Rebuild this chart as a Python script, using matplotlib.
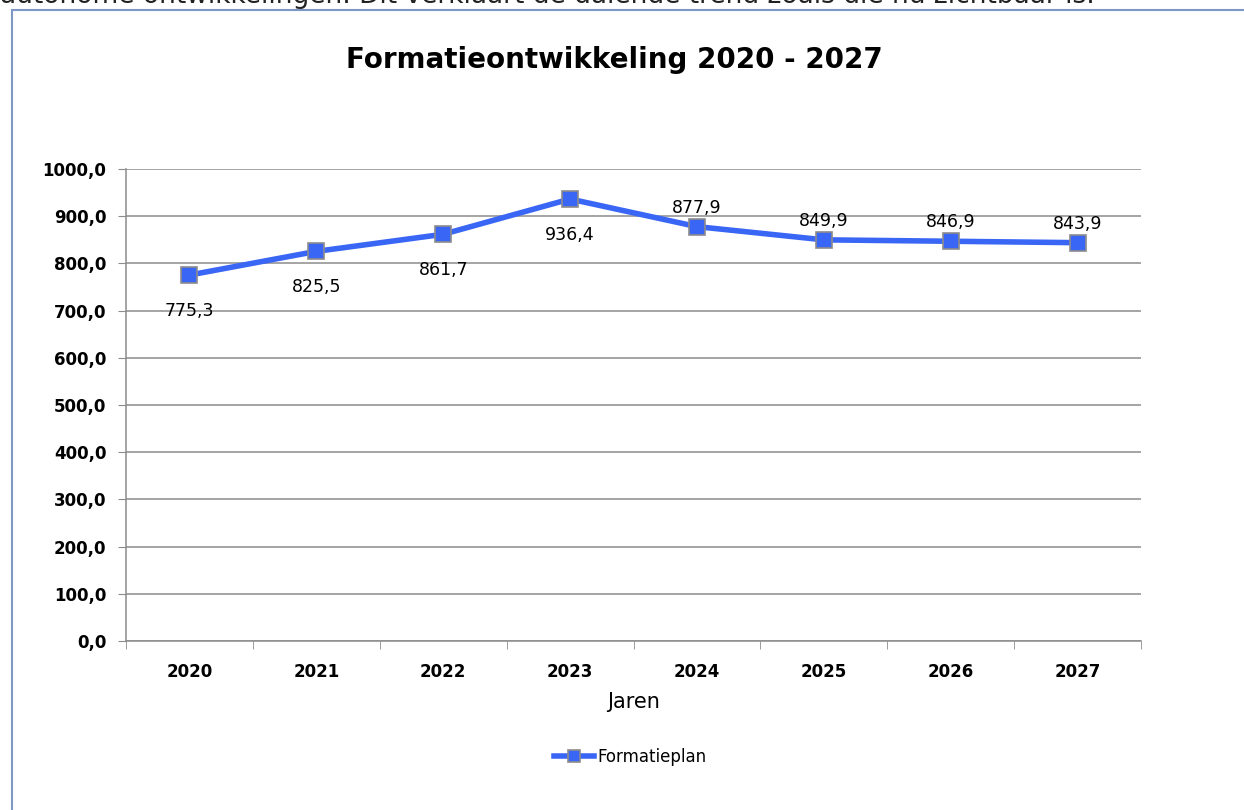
import matplotlib
matplotlib.use("Agg")
import matplotlib.pyplot as plt
from matplotlib.patches import Rectangle

# chart data
years = ["2020", "2021", "2022", "2023", "2024", "2025", "2026", "2027"]
formatie = [775.3, 825.5, 861.7, 936.4, 877.9, 849.9, 846.9, 843.9]
label_below = [True, True, True, True, False, False, False, False]
yticks = [0, 100, 200, 300, 400, 500, 600, 700, 800, 900, 1000]

W, H = 1244, 810
fig = plt.figure(figsize=(W / 100, H / 100), dpi=100)

# sentence from the document above the chart, cut off at the top edge
fig.text(0.0, 1.0 + 4 / H, "autonome ontwikkelingen. Dit verklaart de dalende trend zoals die nu zichtbaar is.",
         fontsize=19, color="#222222", va="center", ha="left")

# chart frame
fig.patches.append(Rectangle((12 / W, -0.1), 1.2, 1.1 - 10 / H, transform=fig.transFigure,
                             fill=False, edgecolor="#7f97c4", linewidth=1.5))

ax = fig.add_axes([126 / W, 1 - 641 / H, (1141 - 126) / W, (641 - 169) / H])
x = list(range(len(years)))
ax.plot(x, formatie, color="#3a66f5", linewidth=4, marker="s", markersize=11,
        markerfacecolor="#3a66f5", markeredgecolor="#8c8c8c", markeredgewidth=1.2,
        label="Formatieplan", zorder=3)

for xi, v, below in zip(x, formatie, label_below):
    txt = f"{v:.1f}".replace(".", ",")
    dy = -36 if below else 19
    ax.annotate(txt, (xi, v), xytext=(0, dy), textcoords="offset pixels",
                ha="center", va="center", fontsize=12.5, color="#000000")

ax.set_xlim(-0.5, len(years) - 0.5)
ax.set_ylim(0, 1000)
ax.set_yticks(yticks)
ax.set_yticklabels([f"{t:.1f}".replace(".", ",") for t in yticks], fontsize=12, fontweight="bold")
ax.set_xticks(x)
ax.set_xticklabels(years, fontsize=12, fontweight="bold")
ax.set_xticks([i + 0.5 for i in range(-1, len(years))], minor=True)
ax.tick_params(axis="x", which="major", length=0, pad=16)
ax.tick_params(axis="x", which="minor", length=6, color="#8c8c8c", direction="out")
ax.tick_params(axis="y", length=6, color="#8c8c8c", direction="out", pad=8)
ax.yaxis.grid(True, color="#8c8c8c", linewidth=1.1)
ax.set_axisbelow(True)
for s in ["top", "right"]:
    ax.spines[s].set_visible(False)
for s in ["left", "bottom"]:
    ax.spines[s].set_color("#8c8c8c")
    ax.spines[s].set_linewidth(1.1)

ax.set_xlabel("Jaren", fontsize=15, labelpad=8)

fig.text(614 / W, 1 - 60 / H, "Formatieontwikkeling 2020 - 2027", fontsize=20,
         fontweight="bold", ha="center", va="center")

fig.legend(loc="center", bbox_to_anchor=(630 / W, 1 - 757 / H), frameon=False,
           fontsize=12, handlelength=2.4, handletextpad=0.2, markerscale=0.8)

fig.savefig("out.png", dpi=100)
